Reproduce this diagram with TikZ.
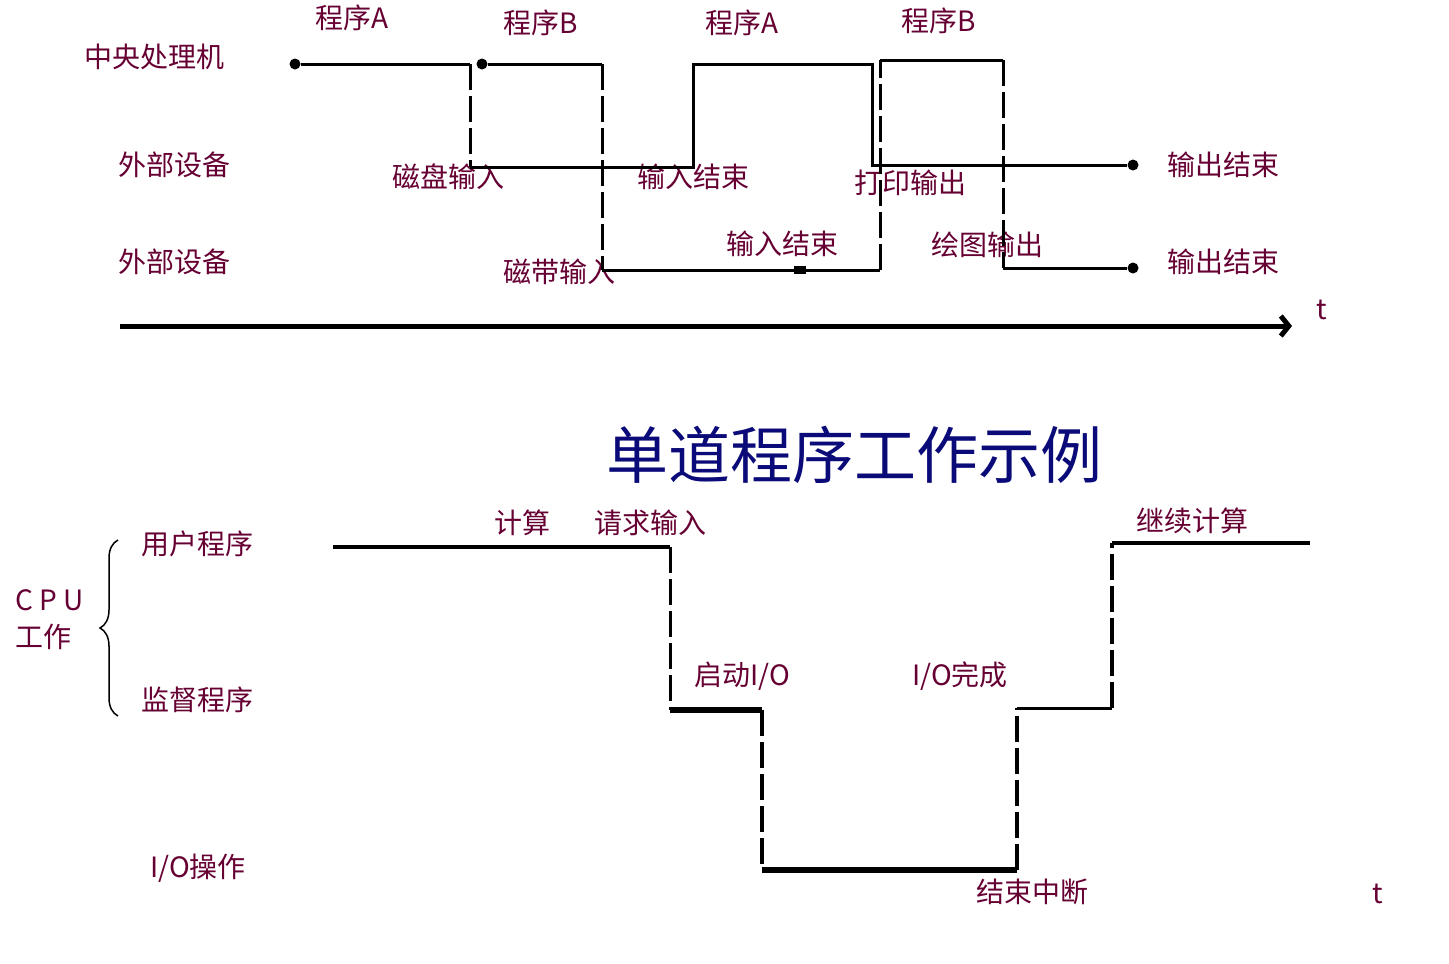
\documentclass[tikz,border=0pt]{standalone}
\usepackage{fontspec}
\setmainfont{Liberation Serif}
\newfontfamily\cjk{Noto Sans CJK SC}
\usetikzlibrary{decorations.pathreplacing,arrows.meta}
\definecolor{lab}{HTML}{660033}
\definecolor{ttl}{HTML}{0A0A78}
\begin{document}
\begin{tikzpicture}[x=1pt,y=-1pt,
  lbl/.style={text=lab,font=\cjk\fontsize{28}{30}\selectfont,inner sep=0pt},
  ln/.style={line width=3pt},
  dl/.style={line width=3pt,dash pattern=on 26pt off 6pt},
  dotc/.style={circle,fill=black,inner sep=0pt,minimum size=11pt}]
\useasboundingbox (0,0) rectangle (1449,964);
% labels top
\node[lbl,anchor=west] (cpu) at (84,57) {中央处理机};
\node[lbl,anchor=west] (d1) at (118,165) {外部设备};
\node[lbl,anchor=west] (d2) at (118,262) {外部设备};
\node[lbl] (pa1) at (352,18) {程序A};
\node[lbl] (pb1) at (541,23) {程序B};
\node[lbl] (pa2) at (742,23) {程序A};
\node[lbl] (pb2) at (939,21) {程序B};
\node[lbl] (l1) at (448,177) {磁盘输入};
\node[lbl] (l2) at (693,177) {输入结束};
\node[lbl] (l3) at (910,183) {打印输出};
\node[lbl] (l4) at (559,272) {磁带输入};
\node[lbl] (l5) at (782,244) {输入结束};
\node[lbl] (l6) at (987,245) {绘图输出};
\node[lbl,anchor=west] (e1) at (1167,165) {输出结束};
\node[lbl,anchor=west] (e2) at (1167,262) {输出结束};
\node[lbl] (t1) at (1322,310) {t};
% coordinates top
\node[dotc] (a0) at (295,64) {};
\node[dotc] (b0) at (482,64) {};
\coordinate (a1) at (470,64); \coordinate (a2) at (470,167);
\coordinate (a3) at (693,167); \coordinate (a4) at (693,64);
\coordinate (a5) at (872,64); \coordinate (a6) at (872,165);
\node[dotc] (a7) at (1133,165) {};
\coordinate (b1) at (602,64); \coordinate (b2) at (602,270);
\coordinate (b3) at (880,270); \coordinate (b4) at (880,60);
\coordinate (b5) at (1003,60); \coordinate (b6) at (1003,268);
\node[dotc] (b7) at (1133,268) {};
\node[fill=black,inner sep=0pt,minimum width=12pt,minimum height=8pt] (m) at (800,270) {};
\draw[ln] (a0) -- (a1); \draw[dl] (a1) -- (a2); \draw[ln] (a2) -- (a3) -- (a4) -- (a5) -- (a6) -- (a7);
\draw[ln] (b0) -- (b1); \draw[dl] (b1) -- (b2); \draw[ln] (b2) -- (b3); \draw[dl] (b3) -- (b4);
\draw[ln] (b4) -- (b5); \draw[dl] (b5) -- (b6); \draw[ln] (b6) -- (b7);
\coordinate (x0) at (120,326); \coordinate (x1) at (1292,326);
\draw[line width=5pt,-{Straight Barb[length=8pt,width=20pt]}] (x0) -- (x1);
% title
\node[text=ttl,font=\cjk\fontsize{62}{66}\selectfont,inner sep=0pt] (title) at (854,455) {单道程序工作示例};
% bottom labels
\node[lbl,anchor=west] (up) at (141,544) {用户程序};
\node[lbl,anchor=west] (sp) at (141,700) {监督程序};
\node[lbl,anchor=west] (io) at (150,868) {I/O操作};
\node[lbl,anchor=west] (cpuw) at (15,600) {C P U};
\node[lbl,anchor=west] (gz) at (15,637) {工作};
\draw[line width=1.5pt,decorate,decoration={brace,amplitude=18pt}] (118,716) -- (118,540);
\node[lbl] (c1) at (522,523) {计算};
\node[lbl] (c2) at (650,523) {请求输入};
\node[lbl] (c3) at (742,676) {启动I/O};
\node[lbl] (c4) at (960,676) {I/O完成};
\node[lbl] (c5) at (1032,892) {结束中断};
\node[lbl] (c6) at (1192,521) {继续计算};
\node[lbl] (t2) at (1378,894) {t};
\coordinate (u0) at (333,547); \coordinate (u1) at (670,547);
\coordinate (u2) at (670,710); \coordinate (u3) at (762,710);
\coordinate (u4) at (762,870); \coordinate (u5) at (1017,870);
\coordinate (u6) at (1017,708); \coordinate (u7) at (1112,708);
\coordinate (u8) at (1112,543); \coordinate (u9) at (1310,543);
\draw[ln,line width=4pt] (u0) -- (u1); \draw[dl] (u1) -- (u2);
\draw[ln,line width=6pt] (u2) -- (u3); \draw[dl,line width=4pt] (u3) -- (u4);
\draw[ln,line width=6pt] (u4) -- (u5); \draw[dl,line width=4pt] (u5) -- (u6);
\draw[ln] (u6) -- (u7); \draw[dl,line width=4pt] (u7) -- (u8);
\draw[ln,line width=4.5pt] (u8) -- (u9);
\end{tikzpicture}
\end{document}
